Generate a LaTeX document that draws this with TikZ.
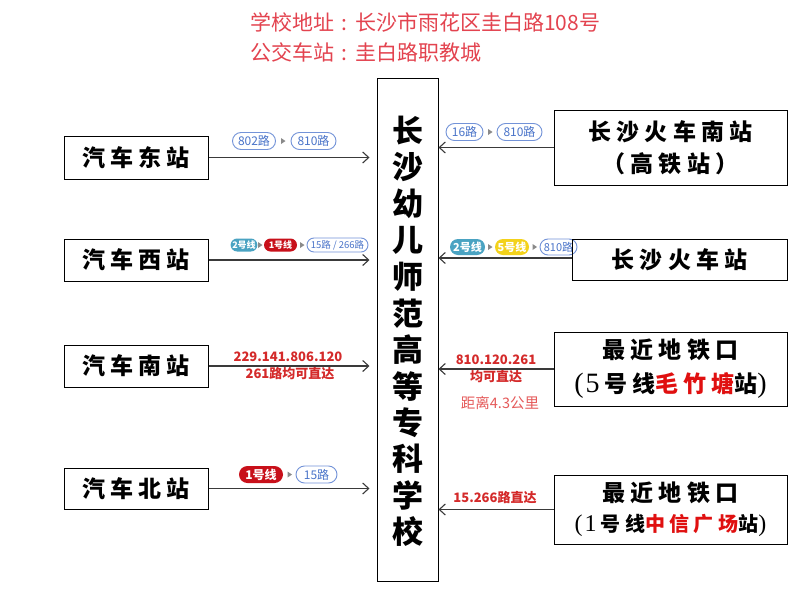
\documentclass[tikz,border=0pt]{standalone}
\usepackage{fontspec}
\setmainfont{Liberation Serif}
\newfontfamily\cjk{Noto Sans CJK SC}
\newfontfamily\cjkb[LetterSpace=22]{Noto Sans CJK SC}
\newfontfamily\serifd{Liberation Serif}
\usetikzlibrary{arrows.meta,shapes.misc}
\definecolor{titlered}{HTML}{E3434F}
\definecolor{labred}{HTML}{D42A2A}
\definecolor{distred}{HTML}{E55A5A}
\definecolor{boxred}{HTML}{E01010}
\definecolor{pillblue}{HTML}{4A74C9}
\definecolor{pillborder}{HTML}{7393D8}
\definecolor{pillteal}{HTML}{4AA3C2}
\definecolor{pillred}{HTML}{C8101A}
\definecolor{pillyellow}{HTML}{F3D21B}
\definecolor{trigray}{HTML}{8A8A8A}
\definecolor{arrowgray}{HTML}{3A3A3A}
\newcommand\trimark[2]{\fill[trigray] (#1-2,#2-3) -- (#1+2.5,#2) -- (#1-2,#2+3) -- cycle;}
\newcommand\tcolon{\makebox[21pt]{:}}
\begin{document}
\begin{tikzpicture}[x=1pt,y=-1pt,
  stbox/.style={draw=black, line width=1pt, inner sep=0pt, align=center,
    font=\cjkb\bfseries\fontsize{23}{32}\selectfont},
  colbox/.style={draw=black, line width=1pt, inner sep=0pt, minimum width=61pt, minimum height=503pt},
  colch/.style={font=\cjk\bfseries\fontsize{31}{31}\selectfont, inner sep=0pt},
  arr/.style={draw=arrowgray, line width=1.1pt, -{Straight Barb[length=6pt,width=11pt]}},
  pill/.style={rounded rectangle, draw=pillborder, line width=0.9pt, text=pillblue, inner sep=0pt,
    minimum height=17pt, font=\cjk\fontsize{12}{12}\selectfont},
  pillfill/.style={pill, draw=none, fill=#1, text=white, font=\cjk\bfseries\fontsize{12}{12}\selectfont},
  redlab/.style={text=labred, inner sep=0pt, font=\cjk\bfseries\fontsize{13}{13}\selectfont},
  distlab/.style={text=distred, inner sep=0pt, font=\cjk\fontsize{14.5}{14.5}\selectfont},
  titletext/.style={text=titlered, inner sep=0pt, anchor=west, font=\cjk\fontsize{21}{21}\selectfont}
]
\useasboundingbox (0,0) rectangle (809,616);
\fill[white] (0,0) rectangle (809,616);

% title
\node (t1) [titletext] at (250,22) {学校地址\tcolon 长沙市雨花区圭白路108号};
\node (t2) [titletext] at (250,52) {公交车站\tcolon 圭白路职教城};

% pills
\node (p1a) [pill, minimum width=43pt] at (254,141) {802路};
\node (p1b) [pill, minimum width=45pt] at (313.5,141) {810路};
\trimark{283}{141}
\node (p1c) [pill, minimum width=37pt] at (464.5,132) {16路};
\node (p1d) [pill, minimum width=45pt] at (519.5,132) {810路};
\trimark{490}{132}

\node (p2a) [pillfill=pillteal, minimum width=25pt, minimum height=13pt, font=\cjk\bfseries\fontsize{9}{9}\selectfont] at (244,245) {2号线};
\trimark{260}{245}
\node (p2b) [pillfill=pillred, minimum width=33pt, minimum height=13pt, font=\cjk\bfseries\fontsize{9}{9}\selectfont] at (280.5,245) {1号线};
\trimark{302}{245}
\node (p2c) [pill, minimum width=61pt, minimum height=14pt, font=\cjk\fontsize{9.5}{9.5}\selectfont] at (337.5,245) {15路 / 266路};

\node (p2d) [pillfill=pillteal, minimum width=35pt, minimum height=16pt, font=\cjk\bfseries\fontsize{11}{11}\selectfont] at (467.5,247) {2号线};
\trimark{490}{247}
\node (p2e) [pillfill=pillyellow, minimum width=34pt, minimum height=16pt, font=\cjk\bfseries\fontsize{11}{11}\selectfont] at (512,247) {5号线};
\trimark{534.5}{247}
\node (p2f) [pill, minimum width=37pt, minimum height=16pt, font=\cjk\fontsize{11}{11}\selectfont] at (558.5,247) {810路};

\node (p4a) [pillfill=pillred, minimum width=44pt] at (261,474.5) {1号线};
\trimark{289.5}{474.5}
\node (p4b) [pill, minimum width=41pt] at (316.5,474.5) {15路};

% red labels
\node (l3a) [redlab] at (288,357) {229.141.806.120};
\node (l3b) [redlab] at (290,374) {261路均可直达};
\node (r3a) [redlab] at (496,360) {810.120.261};
\node (r3b) [redlab] at (496,377) {均可直达};
\node (r3c) [distlab] at (500,403) {距离4.3公里};
\node (r4)  [redlab] at (495,498) {15.266路直达};

% center column
\node (c) [colbox] at (407.5,329.5) {};
\foreach \ch [count=\i from 0] in {长,沙,幼,儿,师,范,高,等,专,科,学,校}
  \node (col\i) [colch] at (407.5,131+\i*36.45) {\ch};

% left boxes
\node (e) [stbox, minimum width=144pt, minimum height=43pt] at (136,157.5) {汽车东站};
\node (w) [stbox, minimum width=144pt, minimum height=42pt] at (136,260) {汽车西站};
\node (s) [stbox, minimum width=144pt, minimum height=42pt] at (136,366) {汽车南站};
\node (n) [stbox, minimum width=144pt, minimum height=41pt] at (136,488.5) {汽车北站};

% right boxes
\node (rs) [stbox, minimum width=233pt, minimum height=75pt] at (670.5,147.5) {长沙火车南站\\（高铁站）};
\node (rz) [stbox, minimum width=215pt, minimum height=41pt] at (679.5,259.5) {长沙火车站};
\node (m5) [stbox, minimum width=233pt, minimum height=74pt, font=\cjkb\bfseries\fontsize{23}{34}\selectfont] at (670.5,369)
  {最近地铁口\\{\serifd\mdseries\fontsize{28}{28}\selectfont(\hspace{2pt}5\,}号线\textcolor{boxred}{毛竹塘}站{\serifd\mdseries\fontsize{28}{28}\selectfont)}};
\node (m1) [stbox, minimum width=233pt, minimum height=69pt, font=\cjkb\bfseries\fontsize{23}{30}\selectfont] at (670.5,509.5)
  {最近地铁口\\{\fontsize{20}{20}\selectfont{\serifd\mdseries\fontsize{24}{24}\selectfont(\hspace{2pt}1\,}号线\textcolor{boxred}{中信广场}站{\serifd\mdseries\fontsize{24}{24}\selectfont)}}};

% arrows
\draw[arr, shorten >=7pt] (e.east) -- (e.east -| c.west);
\draw[arr, shorten >=7pt] (w.east) -- (w.east -| c.west);
\draw[arr, shorten >=7pt] (s.east) -- (s.east -| c.west);
\draw[arr, shorten >=7pt] (n.east) -- (n.east -| c.west);
\draw[arr] (rs.west) -- (rs.west -| c.east);
\draw[arr] ([yshift=1.5pt]rz.west) -- ([yshift=1.5pt]rz.west -| c.east);
\draw[arr] (m5.west) -- (m5.west -| c.east);
\draw[arr] (m1.west) -- (m1.west -| c.east);
\end{tikzpicture}
\end{document}
